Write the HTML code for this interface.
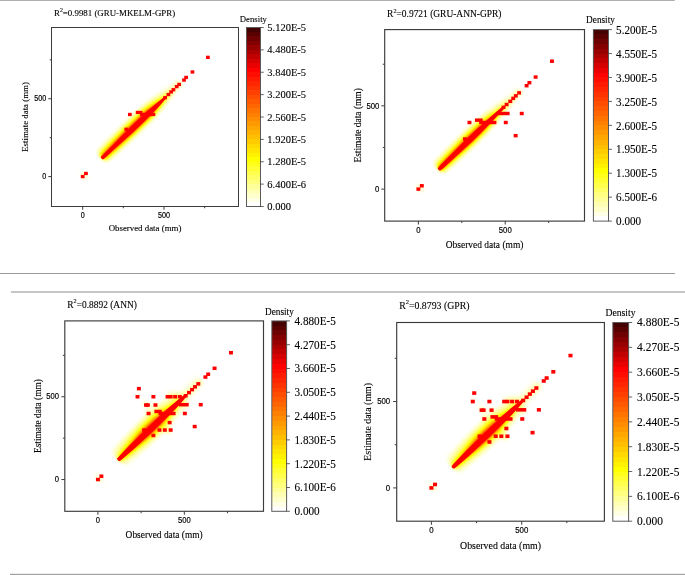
<!DOCTYPE html><html><head><meta charset="utf-8"><title>Density scatter</title>
<style>html,body{margin:0;padding:0;background:#fff}svg{display:block}text{font-family:"Liberation Serif",serif;fill:#000;stroke:#000;stroke-width:0.12px}.sa{font-family:"Liberation Sans",sans-serif;stroke:#000;stroke-width:0.2px}</style></head><body>
<svg width="685" height="575" viewBox="0 0 685 575">
<defs>
<filter id="fire1" filterUnits="userSpaceOnUse" x="-60" y="-60" width="330" height="120" color-interpolation-filters="sRGB">
<feGaussianBlur in="SourceGraphic" stdDeviation="1.2 2.0" result="a"/>
<feGaussianBlur in="SourceGraphic" stdDeviation="2.0 4.2" result="b0"/>
<feOffset in="b0" dx="0" dy="-1.2" result="b"/>
<feComposite in="a" in2="b" operator="arithmetic" k1="0" k2="0.48" k3="0.8" k4="0"/>
<feColorMatrix type="matrix" values="0 0 0 1 0  0 0 0 1 0  0 0 0 1 0  0 0 0 25 0"/>
<feComponentTransfer><feFuncR type="table" tableValues="1 1 1 1 1 1 1 1 1"/><feFuncG type="table" tableValues="1 1 1 0.75 0.5 0.25 0 0 0"/><feFuncB type="table" tableValues="1 0.5 0 0 0 0 0 0 0"/></feComponentTransfer>
</filter>
<clipPath id="c1"><rect x="51.5" y="27.5" width="187.00" height="179.00"/></clipPath>
<filter id="fire2" filterUnits="userSpaceOnUse" x="-60" y="-60" width="330" height="120" color-interpolation-filters="sRGB">
<feGaussianBlur in="SourceGraphic" stdDeviation="1.2 2.0" result="a"/>
<feGaussianBlur in="SourceGraphic" stdDeviation="2.0 4.4" result="b0"/>
<feOffset in="b0" dx="0" dy="-1.2" result="b"/>
<feComposite in="a" in2="b" operator="arithmetic" k1="0" k2="0.48" k3="0.8" k4="0"/>
<feColorMatrix type="matrix" values="0 0 0 1 0  0 0 0 1 0  0 0 0 1 0  0 0 0 25 0"/>
<feComponentTransfer><feFuncR type="table" tableValues="1 1 1 1 1 1 1 1 1"/><feFuncG type="table" tableValues="1 1 1 0.75 0.5 0.25 0 0 0"/><feFuncB type="table" tableValues="1 0.5 0 0 0 0 0 0 0"/></feComponentTransfer>
</filter>
<clipPath id="c2"><rect x="384.7" y="29.6" width="199.80" height="191.50"/></clipPath>
<filter id="fire3" filterUnits="userSpaceOnUse" x="-60" y="-60" width="330" height="120" color-interpolation-filters="sRGB">
<feGaussianBlur in="SourceGraphic" stdDeviation="1.2 2.6" result="a"/>
<feGaussianBlur in="SourceGraphic" stdDeviation="2.5 6.0" result="b0"/>
<feOffset in="b0" dx="0" dy="-1.0" result="b"/>
<feComposite in="a" in2="b" operator="arithmetic" k1="0" k2="0.5" k3="0.95" k4="0"/>
<feColorMatrix type="matrix" values="0 0 0 1 0  0 0 0 1 0  0 0 0 1 0  0 0 0 25 0"/>
<feComponentTransfer><feFuncR type="table" tableValues="1 1 1 1 1 1 1 1 1"/><feFuncG type="table" tableValues="1 1 1 0.75 0.5 0.25 0 0 0"/><feFuncB type="table" tableValues="1 0.5 0 0 0 0 0 0 0"/></feComponentTransfer>
</filter>
<clipPath id="c3"><rect x="64.8" y="320.9" width="198.70" height="190.40"/></clipPath>
<filter id="fire4" filterUnits="userSpaceOnUse" x="-60" y="-60" width="330" height="120" color-interpolation-filters="sRGB">
<feGaussianBlur in="SourceGraphic" stdDeviation="1.2 2.6" result="a"/>
<feGaussianBlur in="SourceGraphic" stdDeviation="2.5 6.0" result="b0"/>
<feOffset in="b0" dx="0" dy="-1.0" result="b"/>
<feComposite in="a" in2="b" operator="arithmetic" k1="0" k2="0.5" k3="0.95" k4="0"/>
<feColorMatrix type="matrix" values="0 0 0 1 0  0 0 0 1 0  0 0 0 1 0  0 0 0 25 0"/>
<feComponentTransfer><feFuncR type="table" tableValues="1 1 1 1 1 1 1 1 1"/><feFuncG type="table" tableValues="1 1 1 0.75 0.5 0.25 0 0 0"/><feFuncB type="table" tableValues="1 0.5 0 0 0 0 0 0 0"/></feComponentTransfer>
</filter>
<clipPath id="c4"><rect x="396.7" y="322.5" width="207.70" height="198.70"/></clipPath>
</defs>
<rect width="685" height="575" fill="#fff"/>
<g clip-path="url(#c1)">
<g transform="translate(82.70 176.58) rotate(-43.75)">
<g filter="url(#fire1)">
<path d="M26.56 0.00 L27.91 -1.80 L45.02 -2.30 L67.53 -2.80 L90.04 -2.70 L101.29 -1.70 L112.55 -0.80 L126.05 -0.32 L135.06 -0.20 L138.44 0.00 L138.44 0.00 L135.06 0.20 L126.05 0.32 L112.55 0.80 L101.29 1.70 L90.04 2.70 L67.53 2.80 L45.02 2.30 L27.91 1.80 L26.56 0.00Z" fill="#000" fill-opacity="1"/>
<circle cx="1.61" cy="0.67" r="4.2" fill="#000" fill-opacity="0.055"/>
</g>
<path d="M26.11 -1.00 L27.01 -1.90 L30.39 -1.90 L45.02 -2.10 L67.53 -2.80 L90.04 -2.80 L101.29 -2.20 L110.30 -1.50 L114.80 -1.20 L115.70 -0.50 L115.70 0.50 L114.80 1.20 L110.30 1.50 L101.29 2.20 L90.04 2.80 L67.53 2.80 L45.02 2.10 L30.39 1.90 L27.01 1.90 L26.11 1.00Z" fill="#ff0000"/>
</g>
<rect x="80.83" y="174.93" width="3.74" height="3.30" fill="#ff0000"/>
<rect x="84.08" y="171.81" width="3.74" height="3.30" fill="#ff0000"/>
<rect x="163.27" y="96.01" width="3.74" height="3.30" fill="#ff0000"/>
<rect x="166.52" y="92.90" width="3.74" height="3.30" fill="#ff0000"/>
<rect x="169.28" y="90.25" width="3.74" height="3.30" fill="#ff0000"/>
<rect x="171.56" y="88.07" width="3.74" height="3.30" fill="#ff0000"/>
<rect x="174.81" y="84.96" width="3.74" height="3.30" fill="#ff0000"/>
<rect x="177.25" y="82.78" width="3.74" height="3.30" fill="#ff0000"/>
<rect x="182.13" y="78.42" width="3.74" height="3.30" fill="#ff0000"/>
<rect x="184.24" y="75.78" width="3.74" height="3.30" fill="#ff0000"/>
<rect x="190.59" y="70.33" width="3.74" height="3.30" fill="#ff0000"/>
<rect x="206.03" y="55.70" width="3.74" height="3.30" fill="#ff0000"/>
<rect x="127.98" y="112.82" width="3.74" height="3.30" fill="#ff0000"/>
<rect x="124.40" y="127.61" width="3.74" height="3.30" fill="#ff0000"/>
<rect x="135.79" y="110.80" width="6.67" height="3.30" fill="#ff0000"/>
<rect x="140.02" y="112.82" width="15.29" height="3.30" fill="#ff0000"/>
</g>
<g clip-path="url(#c2)">
<g transform="translate(418.36 189.11) rotate(-43.78)">
<g filter="url(#fire2)">
<path d="M28.40 0.00 L29.84 -1.80 L48.13 -2.30 L72.20 -2.80 L86.64 -2.60 L96.26 -2.10 L108.29 -1.10 L120.33 -0.50 L129.95 -0.30 L140.78 -0.20 L144.39 0.00 L144.39 0.00 L140.78 0.20 L129.95 0.30 L120.33 0.50 L108.29 1.10 L96.26 2.10 L86.64 2.60 L72.20 2.80 L48.13 2.30 L29.84 1.80 L28.40 0.00Z" fill="#000" fill-opacity="1"/>
<circle cx="1.72" cy="0.72" r="4.2" fill="#000" fill-opacity="0.055"/>
</g>
<path d="M27.92 -1.00 L28.88 -1.90 L32.49 -2.10 L48.13 -2.50 L72.20 -3.00 L84.23 -2.80 L96.26 -2.40 L108.29 -1.90 L115.51 -1.50 L119.12 -1.20 L120.09 -0.50 L120.09 0.50 L119.12 1.20 L115.51 1.50 L108.29 1.90 L96.26 2.40 L84.23 2.80 L72.20 3.00 L48.13 2.50 L32.49 2.10 L28.88 1.90 L27.92 1.00Z" fill="#ff0000"/>
</g>
<rect x="416.41" y="187.39" width="3.91" height="3.44" fill="#ff0000"/>
<rect x="419.88" y="184.06" width="3.91" height="3.44" fill="#ff0000"/>
<rect x="501.54" y="105.63" width="3.91" height="3.44" fill="#ff0000"/>
<rect x="504.67" y="102.80" width="3.91" height="3.44" fill="#ff0000"/>
<rect x="508.32" y="99.63" width="3.91" height="3.44" fill="#ff0000"/>
<rect x="511.27" y="96.63" width="3.91" height="3.44" fill="#ff0000"/>
<rect x="513.88" y="94.14" width="3.91" height="3.44" fill="#ff0000"/>
<rect x="517.18" y="91.14" width="3.91" height="3.44" fill="#ff0000"/>
<rect x="467.49" y="120.78" width="3.91" height="3.44" fill="#ff0000"/>
<rect x="462.97" y="137.27" width="3.91" height="3.44" fill="#ff0000"/>
<rect x="519.78" y="111.79" width="3.91" height="3.44" fill="#ff0000"/>
<rect x="503.80" y="120.78" width="3.91" height="3.44" fill="#ff0000"/>
<rect x="513.70" y="133.94" width="3.91" height="3.44" fill="#ff0000"/>
<rect x="524.65" y="83.98" width="3.91" height="3.44" fill="#ff0000"/>
<rect x="527.43" y="80.98" width="3.91" height="3.44" fill="#ff0000"/>
<rect x="533.68" y="75.32" width="3.91" height="3.44" fill="#ff0000"/>
<rect x="550.01" y="59.50" width="3.91" height="3.44" fill="#ff0000"/>
<rect x="474.96" y="118.45" width="7.73" height="3.44" fill="#ff0000"/>
<rect x="479.13" y="120.78" width="17.28" height="3.44" fill="#ff0000"/>
<rect x="497.54" y="111.79" width="12.07" height="3.44" fill="#ff0000"/>
</g>
<g clip-path="url(#c3)">
<g transform="translate(97.93 479.54) rotate(-43.78)">
<g filter="url(#fire3)">
<path d="M28.24 0.00 L29.67 -1.00 L38.29 -1.50 L47.86 -2.10 L59.83 -2.80 L71.79 -3.30 L83.76 -3.10 L90.93 -2.60 L100.51 -1.60 L107.69 -1.00 L114.87 -0.55 L124.44 -0.32 L134.01 -0.22 L142.38 -0.15 L145.97 0.00 L145.97 0.00 L142.38 0.15 L134.01 0.22 L124.44 0.32 L114.87 0.55 L107.69 1.00 L100.51 1.60 L90.93 2.60 L83.76 3.10 L71.79 3.30 L59.83 2.80 L47.86 2.10 L38.29 1.50 L29.67 1.00 L28.24 0.00Z" fill="#000" fill-opacity="1"/>
<circle cx="1.82" cy="0.60" r="4.4" fill="#000" fill-opacity="0.05"/>
<circle cx="86.85" cy="-19.96" r="3" fill="#000" fill-opacity="0.085"/>
<circle cx="93.09" cy="-13.99" r="2.5" fill="#000" fill-opacity="0.073"/>
<circle cx="82.37" cy="-12.79" r="2.5" fill="#000" fill-opacity="0.073"/>
<circle cx="110.29" cy="-8.97" r="3" fill="#000" fill-opacity="0.085"/>
<circle cx="114.66" cy="-4.78" r="3" fill="#000" fill-opacity="0.085"/>
<circle cx="84.27" cy="11.95" r="3.5" fill="#000" fill-opacity="0.098"/>
<circle cx="114.15" cy="5.74" r="3" fill="#000" fill-opacity="0.073"/>
<circle cx="88.51" cy="-34.43" r="2.5" fill="#000" fill-opacity="0.049"/>
</g>
<path d="M27.76 -1.00 L28.72 -1.90 L32.31 -2.20 L47.86 -2.90 L71.79 -3.20 L95.72 -3.20 L107.69 -2.60 L117.26 -1.80 L122.04 -1.30 L123.00 -0.50 L123.00 0.50 L122.04 1.30 L117.26 1.80 L107.69 2.60 L95.72 3.20 L71.79 3.20 L47.86 2.90 L32.31 2.20 L28.72 1.90 L27.76 1.00Z" fill="#ff0000"/>
</g>
<rect x="95.95" y="477.80" width="3.96" height="3.49" fill="#ff0000"/>
<rect x="99.40" y="474.49" width="3.96" height="3.49" fill="#ff0000"/>
<rect x="183.72" y="394.02" width="3.96" height="3.49" fill="#ff0000"/>
<rect x="187.01" y="390.87" width="3.96" height="3.49" fill="#ff0000"/>
<rect x="190.12" y="387.89" width="3.96" height="3.49" fill="#ff0000"/>
<rect x="193.05" y="385.08" width="3.96" height="3.49" fill="#ff0000"/>
<rect x="196.34" y="382.10" width="3.96" height="3.49" fill="#ff0000"/>
<rect x="165.58" y="395.01" width="3.96" height="3.49" fill="#ff0000"/>
<rect x="168.69" y="395.01" width="3.96" height="3.49" fill="#ff0000"/>
<rect x="173.18" y="395.01" width="3.96" height="3.49" fill="#ff0000"/>
<rect x="177.85" y="395.01" width="3.96" height="3.49" fill="#ff0000"/>
<rect x="136.90" y="386.90" width="3.96" height="3.49" fill="#ff0000"/>
<rect x="135.52" y="395.01" width="3.96" height="3.49" fill="#ff0000"/>
<rect x="151.41" y="395.01" width="3.96" height="3.49" fill="#ff0000"/>
<rect x="143.98" y="403.29" width="3.96" height="3.49" fill="#ff0000"/>
<rect x="145.88" y="403.29" width="3.96" height="3.49" fill="#ff0000"/>
<rect x="153.49" y="403.29" width="3.96" height="3.49" fill="#ff0000"/>
<rect x="146.57" y="411.74" width="3.96" height="3.49" fill="#ff0000"/>
<rect x="182.86" y="411.74" width="3.96" height="3.49" fill="#ff0000"/>
<rect x="198.75" y="402.96" width="3.96" height="3.49" fill="#ff0000"/>
<rect x="167.65" y="420.84" width="3.96" height="3.49" fill="#ff0000"/>
<rect x="192.71" y="424.82" width="3.96" height="3.49" fill="#ff0000"/>
<rect x="157.46" y="428.29" width="3.96" height="3.49" fill="#ff0000"/>
<rect x="162.82" y="428.29" width="3.96" height="3.49" fill="#ff0000"/>
<rect x="168.69" y="428.29" width="3.96" height="3.49" fill="#ff0000"/>
<rect x="142.08" y="428.29" width="3.96" height="3.49" fill="#ff0000"/>
<rect x="151.41" y="433.76" width="3.96" height="3.49" fill="#ff0000"/>
<rect x="203.42" y="375.31" width="3.96" height="3.49" fill="#ff0000"/>
<rect x="206.18" y="372.50" width="3.96" height="3.49" fill="#ff0000"/>
<rect x="212.58" y="366.54" width="3.96" height="3.49" fill="#ff0000"/>
<rect x="228.99" y="350.97" width="3.96" height="3.49" fill="#ff0000"/>
<rect x="154.35" y="409.75" width="7.42" height="3.49" fill="#ff0000"/>
<rect x="158.50" y="411.74" width="17.09" height="3.49" fill="#ff0000"/>
<rect x="178.88" y="402.96" width="9.83" height="3.49" fill="#ff0000"/>
</g>
<g clip-path="url(#c4)">
<g transform="translate(431.42 487.92) rotate(-43.73)">
<g filter="url(#fire4)">
<path d="M29.49 0.00 L30.99 -1.00 L39.99 -1.50 L49.99 -2.10 L62.49 -2.80 L74.98 -3.30 L87.48 -3.10 L94.98 -2.60 L104.98 -1.60 L112.48 -1.00 L119.97 -0.55 L129.97 -0.32 L139.97 -0.22 L148.72 -0.15 L152.47 0.00 L152.47 0.00 L148.72 0.15 L139.97 0.22 L129.97 0.32 L119.97 0.55 L112.48 1.00 L104.98 1.60 L94.98 2.60 L87.48 3.10 L74.98 3.30 L62.49 2.80 L49.99 2.10 L39.99 1.50 L30.99 1.00 L29.49 0.00Z" fill="#000" fill-opacity="1"/>
<circle cx="1.90" cy="0.62" r="4.4" fill="#000" fill-opacity="0.05"/>
<circle cx="90.68" cy="-20.85" r="3" fill="#000" fill-opacity="0.085"/>
<circle cx="97.21" cy="-14.61" r="2.5" fill="#000" fill-opacity="0.073"/>
<circle cx="86.01" cy="-13.36" r="2.5" fill="#000" fill-opacity="0.073"/>
<circle cx="115.19" cy="-9.36" r="3" fill="#000" fill-opacity="0.085"/>
<circle cx="119.75" cy="-4.99" r="3" fill="#000" fill-opacity="0.085"/>
<circle cx="88.03" cy="12.49" r="3.5" fill="#000" fill-opacity="0.098"/>
<circle cx="119.24" cy="5.99" r="3" fill="#000" fill-opacity="0.073"/>
<circle cx="92.39" cy="-35.96" r="2.5" fill="#000" fill-opacity="0.049"/>
</g>
<path d="M28.99 -1.00 L29.99 -1.90 L33.74 -2.20 L49.99 -2.90 L74.98 -3.20 L99.98 -3.20 L112.48 -2.60 L122.47 -1.80 L127.47 -1.30 L128.47 -0.50 L128.47 0.50 L127.47 1.30 L122.47 1.80 L112.48 2.60 L99.98 3.20 L74.98 3.20 L49.99 2.90 L33.74 2.20 L29.99 1.90 L28.99 1.00Z" fill="#ff0000"/>
</g>
<rect x="429.38" y="486.13" width="4.07" height="3.59" fill="#ff0000"/>
<rect x="432.99" y="482.67" width="4.07" height="3.59" fill="#ff0000"/>
<rect x="521.13" y="398.70" width="4.07" height="3.59" fill="#ff0000"/>
<rect x="524.56" y="395.42" width="4.07" height="3.59" fill="#ff0000"/>
<rect x="527.81" y="392.31" width="4.07" height="3.59" fill="#ff0000"/>
<rect x="530.88" y="389.37" width="4.07" height="3.59" fill="#ff0000"/>
<rect x="534.31" y="386.26" width="4.07" height="3.59" fill="#ff0000"/>
<rect x="502.17" y="399.74" width="4.07" height="3.59" fill="#ff0000"/>
<rect x="505.42" y="399.74" width="4.07" height="3.59" fill="#ff0000"/>
<rect x="510.11" y="399.74" width="4.07" height="3.59" fill="#ff0000"/>
<rect x="514.99" y="399.74" width="4.07" height="3.59" fill="#ff0000"/>
<rect x="472.18" y="391.27" width="4.07" height="3.59" fill="#ff0000"/>
<rect x="470.74" y="399.74" width="4.07" height="3.59" fill="#ff0000"/>
<rect x="487.36" y="399.74" width="4.07" height="3.59" fill="#ff0000"/>
<rect x="479.59" y="408.37" width="4.07" height="3.59" fill="#ff0000"/>
<rect x="481.58" y="408.37" width="4.07" height="3.59" fill="#ff0000"/>
<rect x="489.52" y="408.37" width="4.07" height="3.59" fill="#ff0000"/>
<rect x="482.30" y="417.19" width="4.07" height="3.59" fill="#ff0000"/>
<rect x="520.23" y="417.19" width="4.07" height="3.59" fill="#ff0000"/>
<rect x="536.84" y="408.03" width="4.07" height="3.59" fill="#ff0000"/>
<rect x="504.33" y="426.69" width="4.07" height="3.59" fill="#ff0000"/>
<rect x="530.52" y="430.84" width="4.07" height="3.59" fill="#ff0000"/>
<rect x="493.68" y="434.46" width="4.07" height="3.59" fill="#ff0000"/>
<rect x="499.28" y="434.46" width="4.07" height="3.59" fill="#ff0000"/>
<rect x="505.42" y="434.46" width="4.07" height="3.59" fill="#ff0000"/>
<rect x="477.60" y="434.46" width="4.07" height="3.59" fill="#ff0000"/>
<rect x="487.36" y="440.17" width="4.07" height="3.59" fill="#ff0000"/>
<rect x="541.72" y="379.17" width="4.07" height="3.59" fill="#ff0000"/>
<rect x="544.61" y="376.24" width="4.07" height="3.59" fill="#ff0000"/>
<rect x="551.29" y="370.02" width="4.07" height="3.59" fill="#ff0000"/>
<rect x="568.45" y="353.78" width="4.07" height="3.59" fill="#ff0000"/>
<rect x="490.43" y="415.11" width="7.68" height="3.59" fill="#ff0000"/>
<rect x="494.76" y="417.19" width="17.80" height="3.59" fill="#ff0000"/>
<rect x="516.07" y="408.03" width="10.21" height="3.59" fill="#ff0000"/>
</g>
<rect x="0" y="0" width="674.8" height="0.8" fill="#9a9a9a"/>
<rect x="0" y="273" width="674.9" height="1" fill="#9a9a9a"/>
<rect x="11" y="291" width="674" height="2" fill="#c6c6c6"/>
<rect x="10" y="573.8" width="675" height="1.2" fill="#a2a2a2"/>
<g opacity="0.999">
<rect x="51.5" y="27.5" width="187.00" height="179.00" fill="none" stroke="#3c3c3c" stroke-width="1.0"/>
<line x1="82.70" y1="206.5" x2="82.70" y2="209.71" stroke="#3c3c3c" stroke-width="1"/>
<line x1="51.5" y1="176.58" x2="48.29" y2="176.58" stroke="#3c3c3c" stroke-width="1"/>
<line x1="164.00" y1="206.5" x2="164.00" y2="209.71" stroke="#3c3c3c" stroke-width="1"/>
<line x1="51.5" y1="98.75" x2="48.29" y2="98.75" stroke="#3c3c3c" stroke-width="1"/>
<line x1="123.35" y1="206.5" x2="123.35" y2="208.26" stroke="#3c3c3c" stroke-width="1"/>
<line x1="51.5" y1="137.66" x2="49.74" y2="137.66" stroke="#3c3c3c" stroke-width="1"/>
<line x1="204.65" y1="206.5" x2="204.65" y2="208.26" stroke="#3c3c3c" stroke-width="1"/>
<line x1="51.5" y1="59.84" x2="49.74" y2="59.84" stroke="#3c3c3c" stroke-width="1"/>
<text class="sa" transform="translate(82.70 217.70) scale(0.835 1)" font-size="8.58" text-anchor="middle">0</text>
<text class="sa" transform="translate(46.3 179.05) scale(0.835 1)" font-size="8.58" text-anchor="end">0</text>
<text class="sa" transform="translate(164.00 217.70) scale(0.835 1)" font-size="8.58" text-anchor="middle">500</text>
<text class="sa" transform="translate(46.3 101.22) scale(0.835 1)" font-size="8.58" text-anchor="end">500</text>
<text x="145.00" y="230.6" font-size="8.85" text-anchor="middle">Observed data (mm)</text>
<text transform="translate(28.16 117.00) rotate(-90)" font-size="8.85" text-anchor="middle">Estimate data (mm)</text>
<text x="54.0" y="15.5" font-size="8.87">R<tspan font-size="5.85" dy="-3.99">2</tspan><tspan dy="3.99">=0.9981 (GRU-MKELM-GPR)</tspan></text>
<rect x="246.5" y="27.50" width="14.00" height="8.95" fill="rgb(69,0,0)" shape-rendering="crispEdges"/>
<rect x="246.5" y="31.98" width="14.00" height="8.95" fill="rgb(89,0,0)" shape-rendering="crispEdges"/>
<rect x="246.5" y="36.45" width="14.00" height="8.95" fill="rgb(110,0,0)" shape-rendering="crispEdges"/>
<rect x="246.5" y="40.92" width="14.00" height="8.95" fill="rgb(131,0,0)" shape-rendering="crispEdges"/>
<rect x="246.5" y="45.40" width="14.00" height="8.95" fill="rgb(152,0,0)" shape-rendering="crispEdges"/>
<rect x="246.5" y="49.88" width="14.00" height="8.95" fill="rgb(172,0,0)" shape-rendering="crispEdges"/>
<rect x="246.5" y="54.35" width="14.00" height="8.95" fill="rgb(193,0,0)" shape-rendering="crispEdges"/>
<rect x="246.5" y="58.82" width="14.00" height="8.95" fill="rgb(214,0,0)" shape-rendering="crispEdges"/>
<rect x="246.5" y="63.30" width="14.00" height="8.95" fill="rgb(234,0,0)" shape-rendering="crispEdges"/>
<rect x="246.5" y="67.78" width="14.00" height="8.95" fill="rgb(255,0,0)" shape-rendering="crispEdges"/>
<rect x="246.5" y="72.25" width="14.00" height="8.95" fill="rgb(255,13,0)" shape-rendering="crispEdges"/>
<rect x="246.5" y="76.72" width="14.00" height="8.95" fill="rgb(255,26,0)" shape-rendering="crispEdges"/>
<rect x="246.5" y="81.20" width="14.00" height="8.95" fill="rgb(255,38,0)" shape-rendering="crispEdges"/>
<rect x="246.5" y="85.67" width="14.00" height="8.95" fill="rgb(255,51,0)" shape-rendering="crispEdges"/>
<rect x="246.5" y="90.15" width="14.00" height="8.95" fill="rgb(255,64,0)" shape-rendering="crispEdges"/>
<rect x="246.5" y="94.62" width="14.00" height="8.95" fill="rgb(255,77,0)" shape-rendering="crispEdges"/>
<rect x="246.5" y="99.10" width="14.00" height="8.95" fill="rgb(255,89,0)" shape-rendering="crispEdges"/>
<rect x="246.5" y="103.57" width="14.00" height="8.95" fill="rgb(255,102,0)" shape-rendering="crispEdges"/>
<rect x="246.5" y="108.05" width="14.00" height="8.95" fill="rgb(255,115,0)" shape-rendering="crispEdges"/>
<rect x="246.5" y="112.52" width="14.00" height="8.95" fill="rgb(255,128,0)" shape-rendering="crispEdges"/>
<rect x="246.5" y="117.00" width="14.00" height="8.95" fill="rgb(255,140,0)" shape-rendering="crispEdges"/>
<rect x="246.5" y="121.47" width="14.00" height="8.95" fill="rgb(255,153,0)" shape-rendering="crispEdges"/>
<rect x="246.5" y="125.95" width="14.00" height="8.95" fill="rgb(255,166,0)" shape-rendering="crispEdges"/>
<rect x="246.5" y="130.43" width="14.00" height="8.95" fill="rgb(255,178,0)" shape-rendering="crispEdges"/>
<rect x="246.5" y="134.90" width="14.00" height="8.95" fill="rgb(255,191,0)" shape-rendering="crispEdges"/>
<rect x="246.5" y="139.38" width="14.00" height="8.95" fill="rgb(255,204,0)" shape-rendering="crispEdges"/>
<rect x="246.5" y="143.85" width="14.00" height="8.95" fill="rgb(255,217,0)" shape-rendering="crispEdges"/>
<rect x="246.5" y="148.32" width="14.00" height="8.95" fill="rgb(255,229,0)" shape-rendering="crispEdges"/>
<rect x="246.5" y="152.80" width="14.00" height="8.95" fill="rgb(255,242,0)" shape-rendering="crispEdges"/>
<rect x="246.5" y="157.27" width="14.00" height="8.95" fill="rgb(255,255,0)" shape-rendering="crispEdges"/>
<rect x="246.5" y="161.75" width="14.00" height="8.95" fill="rgb(255,255,26)" shape-rendering="crispEdges"/>
<rect x="246.5" y="166.22" width="14.00" height="8.95" fill="rgb(255,255,51)" shape-rendering="crispEdges"/>
<rect x="246.5" y="170.70" width="14.00" height="8.95" fill="rgb(255,255,76)" shape-rendering="crispEdges"/>
<rect x="246.5" y="175.17" width="14.00" height="8.95" fill="rgb(255,255,102)" shape-rendering="crispEdges"/>
<rect x="246.5" y="179.65" width="14.00" height="8.95" fill="rgb(255,255,128)" shape-rendering="crispEdges"/>
<rect x="246.5" y="184.12" width="14.00" height="8.95" fill="rgb(255,255,153)" shape-rendering="crispEdges"/>
<rect x="246.5" y="188.60" width="14.00" height="8.95" fill="rgb(255,255,179)" shape-rendering="crispEdges"/>
<rect x="246.5" y="193.07" width="14.00" height="8.95" fill="rgb(255,255,204)" shape-rendering="crispEdges"/>
<rect x="246.5" y="197.55" width="14.00" height="8.95" fill="rgb(255,255,229)" shape-rendering="crispEdges"/>
<rect x="246.5" y="202.02" width="14.00" height="4.47" fill="rgb(255,255,255)" shape-rendering="crispEdges"/>
<rect x="246.5" y="27.5" width="14.00" height="179.00" fill="none" stroke="#5a5a5a" stroke-width="1"/>
<line x1="260.5" y1="27.50" x2="263.71" y2="27.50" stroke="#3c3c3c" stroke-width="0.8"/>
<text transform="translate(267.3 31.09) scale(0.99 1)" font-size="10.61">5.120E-5</text>
<line x1="260.5" y1="49.88" x2="263.71" y2="49.88" stroke="#3c3c3c" stroke-width="0.8"/>
<text transform="translate(267.3 53.46) scale(0.99 1)" font-size="10.61">4.480E-5</text>
<line x1="260.5" y1="72.25" x2="263.71" y2="72.25" stroke="#3c3c3c" stroke-width="0.8"/>
<text transform="translate(267.3 75.84) scale(0.99 1)" font-size="10.61">3.840E-5</text>
<line x1="260.5" y1="94.62" x2="263.71" y2="94.62" stroke="#3c3c3c" stroke-width="0.8"/>
<text transform="translate(267.3 98.21) scale(0.99 1)" font-size="10.61">3.200E-5</text>
<line x1="260.5" y1="117.00" x2="263.71" y2="117.00" stroke="#3c3c3c" stroke-width="0.8"/>
<text transform="translate(267.3 120.59) scale(0.99 1)" font-size="10.61">2.560E-5</text>
<line x1="260.5" y1="139.38" x2="263.71" y2="139.38" stroke="#3c3c3c" stroke-width="0.8"/>
<text transform="translate(267.3 142.96) scale(0.99 1)" font-size="10.61">1.920E-5</text>
<line x1="260.5" y1="161.75" x2="263.71" y2="161.75" stroke="#3c3c3c" stroke-width="0.8"/>
<text transform="translate(267.3 165.34) scale(0.99 1)" font-size="10.61">1.280E-5</text>
<line x1="260.5" y1="184.12" x2="263.71" y2="184.12" stroke="#3c3c3c" stroke-width="0.8"/>
<text transform="translate(267.3 187.71) scale(0.99 1)" font-size="10.61">6.400E-6</text>
<line x1="260.5" y1="206.50" x2="263.71" y2="206.50" stroke="#3c3c3c" stroke-width="0.8"/>
<text transform="translate(267.3 210.09) scale(0.99 1)" font-size="10.61">0.000</text>
<text transform="translate(239.8 21.7) scale(0.975 1)" font-size="8.95">Density</text>
<rect x="384.7" y="29.6" width="199.80" height="191.50" fill="none" stroke="#3c3c3c" stroke-width="1.15"/>
<line x1="418.36" y1="221.1" x2="418.36" y2="224.53" stroke="#3c3c3c" stroke-width="1"/>
<line x1="384.7" y1="189.11" x2="381.27" y2="189.11" stroke="#3c3c3c" stroke-width="1"/>
<line x1="505.23" y1="221.1" x2="505.23" y2="224.53" stroke="#3c3c3c" stroke-width="1"/>
<line x1="384.7" y1="105.85" x2="381.27" y2="105.85" stroke="#3c3c3c" stroke-width="1"/>
<line x1="461.80" y1="221.1" x2="461.80" y2="222.99" stroke="#3c3c3c" stroke-width="1"/>
<line x1="384.7" y1="147.48" x2="382.81" y2="147.48" stroke="#3c3c3c" stroke-width="1"/>
<line x1="548.66" y1="221.1" x2="548.66" y2="222.99" stroke="#3c3c3c" stroke-width="1"/>
<line x1="384.7" y1="64.22" x2="382.81" y2="64.22" stroke="#3c3c3c" stroke-width="1"/>
<text class="sa" transform="translate(418.36 233.40) scale(0.835 1)" font-size="9.28" text-anchor="middle">0</text>
<text class="sa" transform="translate(379.4 191.83) scale(0.835 1)" font-size="9.28" text-anchor="end">0</text>
<text class="sa" transform="translate(505.23 233.40) scale(0.835 1)" font-size="9.28" text-anchor="middle">500</text>
<text class="sa" transform="translate(379.4 108.57) scale(0.835 1)" font-size="9.28" text-anchor="end">500</text>
<text x="484.60" y="248.3" font-size="9.45" text-anchor="middle">Observed data (mm)</text>
<text transform="translate(360.63 125.35) rotate(-90)" font-size="9.45" text-anchor="middle">Estimate data (mm)</text>
<text x="387.1" y="17.0" font-size="9.45">R<tspan font-size="6.24" dy="-4.25">2</tspan><tspan dy="4.25">=0.9721 (GRU-ANN-GPR)</tspan></text>
<rect x="593.4" y="29.60" width="15.10" height="9.57" fill="rgb(69,0,0)" shape-rendering="crispEdges"/>
<rect x="593.4" y="34.39" width="15.10" height="9.57" fill="rgb(89,0,0)" shape-rendering="crispEdges"/>
<rect x="593.4" y="39.17" width="15.10" height="9.57" fill="rgb(110,0,0)" shape-rendering="crispEdges"/>
<rect x="593.4" y="43.96" width="15.10" height="9.57" fill="rgb(131,0,0)" shape-rendering="crispEdges"/>
<rect x="593.4" y="48.75" width="15.10" height="9.57" fill="rgb(152,0,0)" shape-rendering="crispEdges"/>
<rect x="593.4" y="53.54" width="15.10" height="9.57" fill="rgb(172,0,0)" shape-rendering="crispEdges"/>
<rect x="593.4" y="58.33" width="15.10" height="9.57" fill="rgb(193,0,0)" shape-rendering="crispEdges"/>
<rect x="593.4" y="63.11" width="15.10" height="9.57" fill="rgb(214,0,0)" shape-rendering="crispEdges"/>
<rect x="593.4" y="67.90" width="15.10" height="9.57" fill="rgb(234,0,0)" shape-rendering="crispEdges"/>
<rect x="593.4" y="72.69" width="15.10" height="9.57" fill="rgb(255,0,0)" shape-rendering="crispEdges"/>
<rect x="593.4" y="77.47" width="15.10" height="9.57" fill="rgb(255,13,0)" shape-rendering="crispEdges"/>
<rect x="593.4" y="82.26" width="15.10" height="9.57" fill="rgb(255,26,0)" shape-rendering="crispEdges"/>
<rect x="593.4" y="87.05" width="15.10" height="9.57" fill="rgb(255,38,0)" shape-rendering="crispEdges"/>
<rect x="593.4" y="91.84" width="15.10" height="9.57" fill="rgb(255,51,0)" shape-rendering="crispEdges"/>
<rect x="593.4" y="96.62" width="15.10" height="9.57" fill="rgb(255,64,0)" shape-rendering="crispEdges"/>
<rect x="593.4" y="101.41" width="15.10" height="9.57" fill="rgb(255,77,0)" shape-rendering="crispEdges"/>
<rect x="593.4" y="106.20" width="15.10" height="9.57" fill="rgb(255,89,0)" shape-rendering="crispEdges"/>
<rect x="593.4" y="110.99" width="15.10" height="9.57" fill="rgb(255,102,0)" shape-rendering="crispEdges"/>
<rect x="593.4" y="115.78" width="15.10" height="9.57" fill="rgb(255,115,0)" shape-rendering="crispEdges"/>
<rect x="593.4" y="120.56" width="15.10" height="9.57" fill="rgb(255,128,0)" shape-rendering="crispEdges"/>
<rect x="593.4" y="125.35" width="15.10" height="9.57" fill="rgb(255,140,0)" shape-rendering="crispEdges"/>
<rect x="593.4" y="130.14" width="15.10" height="9.57" fill="rgb(255,153,0)" shape-rendering="crispEdges"/>
<rect x="593.4" y="134.92" width="15.10" height="9.57" fill="rgb(255,166,0)" shape-rendering="crispEdges"/>
<rect x="593.4" y="139.71" width="15.10" height="9.57" fill="rgb(255,178,0)" shape-rendering="crispEdges"/>
<rect x="593.4" y="144.50" width="15.10" height="9.57" fill="rgb(255,191,0)" shape-rendering="crispEdges"/>
<rect x="593.4" y="149.29" width="15.10" height="9.57" fill="rgb(255,204,0)" shape-rendering="crispEdges"/>
<rect x="593.4" y="154.07" width="15.10" height="9.57" fill="rgb(255,217,0)" shape-rendering="crispEdges"/>
<rect x="593.4" y="158.86" width="15.10" height="9.57" fill="rgb(255,229,0)" shape-rendering="crispEdges"/>
<rect x="593.4" y="163.65" width="15.10" height="9.57" fill="rgb(255,242,0)" shape-rendering="crispEdges"/>
<rect x="593.4" y="168.44" width="15.10" height="9.57" fill="rgb(255,255,0)" shape-rendering="crispEdges"/>
<rect x="593.4" y="173.22" width="15.10" height="9.57" fill="rgb(255,255,26)" shape-rendering="crispEdges"/>
<rect x="593.4" y="178.01" width="15.10" height="9.57" fill="rgb(255,255,51)" shape-rendering="crispEdges"/>
<rect x="593.4" y="182.80" width="15.10" height="9.57" fill="rgb(255,255,76)" shape-rendering="crispEdges"/>
<rect x="593.4" y="187.59" width="15.10" height="9.57" fill="rgb(255,255,102)" shape-rendering="crispEdges"/>
<rect x="593.4" y="192.37" width="15.10" height="9.57" fill="rgb(255,255,128)" shape-rendering="crispEdges"/>
<rect x="593.4" y="197.16" width="15.10" height="9.57" fill="rgb(255,255,153)" shape-rendering="crispEdges"/>
<rect x="593.4" y="201.95" width="15.10" height="9.57" fill="rgb(255,255,179)" shape-rendering="crispEdges"/>
<rect x="593.4" y="206.74" width="15.10" height="9.57" fill="rgb(255,255,204)" shape-rendering="crispEdges"/>
<rect x="593.4" y="211.52" width="15.10" height="9.57" fill="rgb(255,255,229)" shape-rendering="crispEdges"/>
<rect x="593.4" y="216.31" width="15.10" height="4.79" fill="rgb(255,255,255)" shape-rendering="crispEdges"/>
<rect x="593.4" y="29.6" width="15.10" height="191.50" fill="none" stroke="#5a5a5a" stroke-width="1"/>
<line x1="608.5" y1="29.60" x2="611.93" y2="29.60" stroke="#3c3c3c" stroke-width="0.8"/>
<text transform="translate(616.1 33.77) scale(0.958 1)" font-size="11.60">5.200E-5</text>
<line x1="608.5" y1="53.54" x2="611.93" y2="53.54" stroke="#3c3c3c" stroke-width="0.8"/>
<text transform="translate(616.1 57.71) scale(0.958 1)" font-size="11.60">4.550E-5</text>
<line x1="608.5" y1="77.47" x2="611.93" y2="77.47" stroke="#3c3c3c" stroke-width="0.8"/>
<text transform="translate(616.1 81.65) scale(0.958 1)" font-size="11.60">3.900E-5</text>
<line x1="608.5" y1="101.41" x2="611.93" y2="101.41" stroke="#3c3c3c" stroke-width="0.8"/>
<text transform="translate(616.1 105.58) scale(0.958 1)" font-size="11.60">3.250E-5</text>
<line x1="608.5" y1="125.35" x2="611.93" y2="125.35" stroke="#3c3c3c" stroke-width="0.8"/>
<text transform="translate(616.1 129.52) scale(0.958 1)" font-size="11.60">2.600E-5</text>
<line x1="608.5" y1="149.29" x2="611.93" y2="149.29" stroke="#3c3c3c" stroke-width="0.8"/>
<text transform="translate(616.1 153.46) scale(0.958 1)" font-size="11.60">1.950E-5</text>
<line x1="608.5" y1="173.22" x2="611.93" y2="173.22" stroke="#3c3c3c" stroke-width="0.8"/>
<text transform="translate(616.1 177.40) scale(0.958 1)" font-size="11.60">1.300E-5</text>
<line x1="608.5" y1="197.16" x2="611.93" y2="197.16" stroke="#3c3c3c" stroke-width="0.8"/>
<text transform="translate(616.1 201.33) scale(0.958 1)" font-size="11.60">6.500E-6</text>
<line x1="608.5" y1="221.10" x2="611.93" y2="221.10" stroke="#3c3c3c" stroke-width="0.8"/>
<text transform="translate(616.1 225.27) scale(0.958 1)" font-size="11.60">0.000</text>
<text transform="translate(586.1 23.2) scale(0.975 1)" font-size="9.5">Density</text>
<rect x="64.8" y="320.9" width="198.70" height="190.40" fill="none" stroke="#3c3c3c" stroke-width="1.15"/>
<line x1="97.93" y1="511.3" x2="97.93" y2="514.71" stroke="#3c3c3c" stroke-width="1"/>
<line x1="64.8" y1="479.54" x2="61.39" y2="479.54" stroke="#3c3c3c" stroke-width="1"/>
<line x1="184.32" y1="511.3" x2="184.32" y2="514.71" stroke="#3c3c3c" stroke-width="1"/>
<line x1="64.8" y1="396.76" x2="61.39" y2="396.76" stroke="#3c3c3c" stroke-width="1"/>
<line x1="141.12" y1="511.3" x2="141.12" y2="513.18" stroke="#3c3c3c" stroke-width="1"/>
<line x1="64.8" y1="438.15" x2="62.92" y2="438.15" stroke="#3c3c3c" stroke-width="1"/>
<line x1="227.52" y1="511.3" x2="227.52" y2="513.18" stroke="#3c3c3c" stroke-width="1"/>
<line x1="64.8" y1="355.37" x2="62.92" y2="355.37" stroke="#3c3c3c" stroke-width="1"/>
<text class="sa" transform="translate(97.93 523.00) scale(0.835 1)" font-size="9.16" text-anchor="middle">0</text>
<text class="sa" transform="translate(58.9 482.22) scale(0.835 1)" font-size="9.16" text-anchor="end">0</text>
<text class="sa" transform="translate(184.32 523.00) scale(0.835 1)" font-size="9.16" text-anchor="middle">500</text>
<text class="sa" transform="translate(58.9 399.44) scale(0.835 1)" font-size="9.16" text-anchor="end">500</text>
<text x="164.15" y="537.6" font-size="9.38" text-anchor="middle">Observed data (mm)</text>
<text transform="translate(40.61 416.10) rotate(-90)" font-size="9.38" text-anchor="middle">Estimate data (mm)</text>
<text x="67.3" y="307.6" font-size="9.42">R<tspan font-size="6.22" dy="-4.24">2</tspan><tspan dy="4.24">=0.8892 (ANN)</tspan></text>
<rect x="271.8" y="320.90" width="14.80" height="9.52" fill="rgb(69,0,0)" shape-rendering="crispEdges"/>
<rect x="271.8" y="325.66" width="14.80" height="9.52" fill="rgb(89,0,0)" shape-rendering="crispEdges"/>
<rect x="271.8" y="330.42" width="14.80" height="9.52" fill="rgb(110,0,0)" shape-rendering="crispEdges"/>
<rect x="271.8" y="335.18" width="14.80" height="9.52" fill="rgb(131,0,0)" shape-rendering="crispEdges"/>
<rect x="271.8" y="339.94" width="14.80" height="9.52" fill="rgb(152,0,0)" shape-rendering="crispEdges"/>
<rect x="271.8" y="344.70" width="14.80" height="9.52" fill="rgb(172,0,0)" shape-rendering="crispEdges"/>
<rect x="271.8" y="349.46" width="14.80" height="9.52" fill="rgb(193,0,0)" shape-rendering="crispEdges"/>
<rect x="271.8" y="354.22" width="14.80" height="9.52" fill="rgb(214,0,0)" shape-rendering="crispEdges"/>
<rect x="271.8" y="358.98" width="14.80" height="9.52" fill="rgb(234,0,0)" shape-rendering="crispEdges"/>
<rect x="271.8" y="363.74" width="14.80" height="9.52" fill="rgb(255,0,0)" shape-rendering="crispEdges"/>
<rect x="271.8" y="368.50" width="14.80" height="9.52" fill="rgb(255,13,0)" shape-rendering="crispEdges"/>
<rect x="271.8" y="373.26" width="14.80" height="9.52" fill="rgb(255,26,0)" shape-rendering="crispEdges"/>
<rect x="271.8" y="378.02" width="14.80" height="9.52" fill="rgb(255,38,0)" shape-rendering="crispEdges"/>
<rect x="271.8" y="382.78" width="14.80" height="9.52" fill="rgb(255,51,0)" shape-rendering="crispEdges"/>
<rect x="271.8" y="387.54" width="14.80" height="9.52" fill="rgb(255,64,0)" shape-rendering="crispEdges"/>
<rect x="271.8" y="392.30" width="14.80" height="9.52" fill="rgb(255,77,0)" shape-rendering="crispEdges"/>
<rect x="271.8" y="397.06" width="14.80" height="9.52" fill="rgb(255,89,0)" shape-rendering="crispEdges"/>
<rect x="271.8" y="401.82" width="14.80" height="9.52" fill="rgb(255,102,0)" shape-rendering="crispEdges"/>
<rect x="271.8" y="406.58" width="14.80" height="9.52" fill="rgb(255,115,0)" shape-rendering="crispEdges"/>
<rect x="271.8" y="411.34" width="14.80" height="9.52" fill="rgb(255,128,0)" shape-rendering="crispEdges"/>
<rect x="271.8" y="416.10" width="14.80" height="9.52" fill="rgb(255,140,0)" shape-rendering="crispEdges"/>
<rect x="271.8" y="420.86" width="14.80" height="9.52" fill="rgb(255,153,0)" shape-rendering="crispEdges"/>
<rect x="271.8" y="425.62" width="14.80" height="9.52" fill="rgb(255,166,0)" shape-rendering="crispEdges"/>
<rect x="271.8" y="430.38" width="14.80" height="9.52" fill="rgb(255,178,0)" shape-rendering="crispEdges"/>
<rect x="271.8" y="435.14" width="14.80" height="9.52" fill="rgb(255,191,0)" shape-rendering="crispEdges"/>
<rect x="271.8" y="439.90" width="14.80" height="9.52" fill="rgb(255,204,0)" shape-rendering="crispEdges"/>
<rect x="271.8" y="444.66" width="14.80" height="9.52" fill="rgb(255,217,0)" shape-rendering="crispEdges"/>
<rect x="271.8" y="449.42" width="14.80" height="9.52" fill="rgb(255,229,0)" shape-rendering="crispEdges"/>
<rect x="271.8" y="454.18" width="14.80" height="9.52" fill="rgb(255,242,0)" shape-rendering="crispEdges"/>
<rect x="271.8" y="458.94" width="14.80" height="9.52" fill="rgb(255,255,0)" shape-rendering="crispEdges"/>
<rect x="271.8" y="463.70" width="14.80" height="9.52" fill="rgb(255,255,26)" shape-rendering="crispEdges"/>
<rect x="271.8" y="468.46" width="14.80" height="9.52" fill="rgb(255,255,51)" shape-rendering="crispEdges"/>
<rect x="271.8" y="473.22" width="14.80" height="9.52" fill="rgb(255,255,76)" shape-rendering="crispEdges"/>
<rect x="271.8" y="477.98" width="14.80" height="9.52" fill="rgb(255,255,102)" shape-rendering="crispEdges"/>
<rect x="271.8" y="482.74" width="14.80" height="9.52" fill="rgb(255,255,128)" shape-rendering="crispEdges"/>
<rect x="271.8" y="487.50" width="14.80" height="9.52" fill="rgb(255,255,153)" shape-rendering="crispEdges"/>
<rect x="271.8" y="492.26" width="14.80" height="9.52" fill="rgb(255,255,179)" shape-rendering="crispEdges"/>
<rect x="271.8" y="497.02" width="14.80" height="9.52" fill="rgb(255,255,204)" shape-rendering="crispEdges"/>
<rect x="271.8" y="501.78" width="14.80" height="9.52" fill="rgb(255,255,229)" shape-rendering="crispEdges"/>
<rect x="271.8" y="506.54" width="14.80" height="4.76" fill="rgb(255,255,255)" shape-rendering="crispEdges"/>
<rect x="271.8" y="320.9" width="14.80" height="190.40" fill="none" stroke="#5a5a5a" stroke-width="1"/>
<line x1="286.6" y1="320.90" x2="290.01" y2="320.90" stroke="#3c3c3c" stroke-width="0.8"/>
<text transform="translate(294.5 324.82) scale(0.965 1)" font-size="11.60">4.880E-5</text>
<line x1="286.6" y1="344.70" x2="290.01" y2="344.70" stroke="#3c3c3c" stroke-width="0.8"/>
<text transform="translate(294.5 348.62) scale(0.965 1)" font-size="11.60">4.270E-5</text>
<line x1="286.6" y1="368.50" x2="290.01" y2="368.50" stroke="#3c3c3c" stroke-width="0.8"/>
<text transform="translate(294.5 372.42) scale(0.965 1)" font-size="11.60">3.660E-5</text>
<line x1="286.6" y1="392.30" x2="290.01" y2="392.30" stroke="#3c3c3c" stroke-width="0.8"/>
<text transform="translate(294.5 396.22) scale(0.965 1)" font-size="11.60">3.050E-5</text>
<line x1="286.6" y1="416.10" x2="290.01" y2="416.10" stroke="#3c3c3c" stroke-width="0.8"/>
<text transform="translate(294.5 420.02) scale(0.965 1)" font-size="11.60">2.440E-5</text>
<line x1="286.6" y1="439.90" x2="290.01" y2="439.90" stroke="#3c3c3c" stroke-width="0.8"/>
<text transform="translate(294.5 443.82) scale(0.965 1)" font-size="11.60">1.830E-5</text>
<line x1="286.6" y1="463.70" x2="290.01" y2="463.70" stroke="#3c3c3c" stroke-width="0.8"/>
<text transform="translate(294.5 467.62) scale(0.965 1)" font-size="11.60">1.220E-5</text>
<line x1="286.6" y1="487.50" x2="290.01" y2="487.50" stroke="#3c3c3c" stroke-width="0.8"/>
<text transform="translate(294.5 491.42) scale(0.965 1)" font-size="11.60">6.100E-6</text>
<line x1="286.6" y1="511.30" x2="290.01" y2="511.30" stroke="#3c3c3c" stroke-width="0.8"/>
<text transform="translate(294.5 515.22) scale(0.965 1)" font-size="11.60">0.000</text>
<text transform="translate(265.0 314.9) scale(0.975 1)" font-size="9.5">Density</text>
<rect x="396.7" y="322.5" width="207.70" height="198.70" fill="none" stroke="#3c3c3c" stroke-width="1.15"/>
<line x1="431.42" y1="521.2" x2="431.42" y2="524.76" stroke="#3c3c3c" stroke-width="1"/>
<line x1="396.7" y1="487.92" x2="393.14" y2="487.92" stroke="#3c3c3c" stroke-width="1"/>
<line x1="521.72" y1="521.2" x2="521.72" y2="524.76" stroke="#3c3c3c" stroke-width="1"/>
<line x1="396.7" y1="401.53" x2="393.14" y2="401.53" stroke="#3c3c3c" stroke-width="1"/>
<line x1="476.57" y1="521.2" x2="476.57" y2="523.16" stroke="#3c3c3c" stroke-width="1"/>
<line x1="396.7" y1="444.73" x2="394.74" y2="444.73" stroke="#3c3c3c" stroke-width="1"/>
<line x1="566.87" y1="521.2" x2="566.87" y2="523.16" stroke="#3c3c3c" stroke-width="1"/>
<line x1="396.7" y1="358.33" x2="394.74" y2="358.33" stroke="#3c3c3c" stroke-width="1"/>
<text class="sa" transform="translate(431.42 533.30) scale(0.835 1)" font-size="9.40" text-anchor="middle">0</text>
<text class="sa" transform="translate(390.2 490.69) scale(0.835 1)" font-size="9.40" text-anchor="end">0</text>
<text class="sa" transform="translate(521.72 533.30) scale(0.835 1)" font-size="9.40" text-anchor="middle">500</text>
<text class="sa" transform="translate(390.2 404.29) scale(0.835 1)" font-size="9.40" text-anchor="end">500</text>
<text x="500.55" y="548.7" font-size="9.85" text-anchor="middle">Observed data (mm)</text>
<text transform="translate(370.75 421.85) rotate(-90)" font-size="9.85" text-anchor="middle">Estimate data (mm)</text>
<text x="399.2" y="308.8" font-size="9.8">R<tspan font-size="6.47" dy="-4.41">2</tspan><tspan dy="4.41">=0.8793 (GPR)</tspan></text>
<rect x="612.8" y="322.50" width="15.80" height="9.94" fill="rgb(69,0,0)" shape-rendering="crispEdges"/>
<rect x="612.8" y="327.47" width="15.80" height="9.94" fill="rgb(89,0,0)" shape-rendering="crispEdges"/>
<rect x="612.8" y="332.44" width="15.80" height="9.94" fill="rgb(110,0,0)" shape-rendering="crispEdges"/>
<rect x="612.8" y="337.40" width="15.80" height="9.94" fill="rgb(131,0,0)" shape-rendering="crispEdges"/>
<rect x="612.8" y="342.37" width="15.80" height="9.94" fill="rgb(152,0,0)" shape-rendering="crispEdges"/>
<rect x="612.8" y="347.34" width="15.80" height="9.94" fill="rgb(172,0,0)" shape-rendering="crispEdges"/>
<rect x="612.8" y="352.31" width="15.80" height="9.94" fill="rgb(193,0,0)" shape-rendering="crispEdges"/>
<rect x="612.8" y="357.27" width="15.80" height="9.94" fill="rgb(214,0,0)" shape-rendering="crispEdges"/>
<rect x="612.8" y="362.24" width="15.80" height="9.94" fill="rgb(234,0,0)" shape-rendering="crispEdges"/>
<rect x="612.8" y="367.21" width="15.80" height="9.94" fill="rgb(255,0,0)" shape-rendering="crispEdges"/>
<rect x="612.8" y="372.18" width="15.80" height="9.94" fill="rgb(255,13,0)" shape-rendering="crispEdges"/>
<rect x="612.8" y="377.14" width="15.80" height="9.94" fill="rgb(255,26,0)" shape-rendering="crispEdges"/>
<rect x="612.8" y="382.11" width="15.80" height="9.94" fill="rgb(255,38,0)" shape-rendering="crispEdges"/>
<rect x="612.8" y="387.08" width="15.80" height="9.94" fill="rgb(255,51,0)" shape-rendering="crispEdges"/>
<rect x="612.8" y="392.05" width="15.80" height="9.94" fill="rgb(255,64,0)" shape-rendering="crispEdges"/>
<rect x="612.8" y="397.01" width="15.80" height="9.94" fill="rgb(255,77,0)" shape-rendering="crispEdges"/>
<rect x="612.8" y="401.98" width="15.80" height="9.94" fill="rgb(255,89,0)" shape-rendering="crispEdges"/>
<rect x="612.8" y="406.95" width="15.80" height="9.94" fill="rgb(255,102,0)" shape-rendering="crispEdges"/>
<rect x="612.8" y="411.92" width="15.80" height="9.94" fill="rgb(255,115,0)" shape-rendering="crispEdges"/>
<rect x="612.8" y="416.88" width="15.80" height="9.94" fill="rgb(255,128,0)" shape-rendering="crispEdges"/>
<rect x="612.8" y="421.85" width="15.80" height="9.94" fill="rgb(255,140,0)" shape-rendering="crispEdges"/>
<rect x="612.8" y="426.82" width="15.80" height="9.94" fill="rgb(255,153,0)" shape-rendering="crispEdges"/>
<rect x="612.8" y="431.79" width="15.80" height="9.94" fill="rgb(255,166,0)" shape-rendering="crispEdges"/>
<rect x="612.8" y="436.75" width="15.80" height="9.94" fill="rgb(255,178,0)" shape-rendering="crispEdges"/>
<rect x="612.8" y="441.72" width="15.80" height="9.94" fill="rgb(255,191,0)" shape-rendering="crispEdges"/>
<rect x="612.8" y="446.69" width="15.80" height="9.94" fill="rgb(255,204,0)" shape-rendering="crispEdges"/>
<rect x="612.8" y="451.66" width="15.80" height="9.94" fill="rgb(255,217,0)" shape-rendering="crispEdges"/>
<rect x="612.8" y="456.62" width="15.80" height="9.94" fill="rgb(255,229,0)" shape-rendering="crispEdges"/>
<rect x="612.8" y="461.59" width="15.80" height="9.94" fill="rgb(255,242,0)" shape-rendering="crispEdges"/>
<rect x="612.8" y="466.56" width="15.80" height="9.94" fill="rgb(255,255,0)" shape-rendering="crispEdges"/>
<rect x="612.8" y="471.53" width="15.80" height="9.94" fill="rgb(255,255,26)" shape-rendering="crispEdges"/>
<rect x="612.8" y="476.49" width="15.80" height="9.94" fill="rgb(255,255,51)" shape-rendering="crispEdges"/>
<rect x="612.8" y="481.46" width="15.80" height="9.94" fill="rgb(255,255,76)" shape-rendering="crispEdges"/>
<rect x="612.8" y="486.43" width="15.80" height="9.94" fill="rgb(255,255,102)" shape-rendering="crispEdges"/>
<rect x="612.8" y="491.40" width="15.80" height="9.94" fill="rgb(255,255,128)" shape-rendering="crispEdges"/>
<rect x="612.8" y="496.36" width="15.80" height="9.94" fill="rgb(255,255,153)" shape-rendering="crispEdges"/>
<rect x="612.8" y="501.33" width="15.80" height="9.94" fill="rgb(255,255,179)" shape-rendering="crispEdges"/>
<rect x="612.8" y="506.30" width="15.80" height="9.94" fill="rgb(255,255,204)" shape-rendering="crispEdges"/>
<rect x="612.8" y="511.27" width="15.80" height="9.94" fill="rgb(255,255,229)" shape-rendering="crispEdges"/>
<rect x="612.8" y="516.23" width="15.80" height="4.97" fill="rgb(255,255,255)" shape-rendering="crispEdges"/>
<rect x="612.8" y="322.5" width="15.80" height="198.70" fill="none" stroke="#5a5a5a" stroke-width="1"/>
<line x1="628.6" y1="322.50" x2="632.16" y2="322.50" stroke="#3c3c3c" stroke-width="0.8"/>
<text transform="translate(637.1 326.49) scale(0.97 1)" font-size="11.81">4.880E-5</text>
<line x1="628.6" y1="347.34" x2="632.16" y2="347.34" stroke="#3c3c3c" stroke-width="0.8"/>
<text transform="translate(637.1 351.33) scale(0.97 1)" font-size="11.81">4.270E-5</text>
<line x1="628.6" y1="372.18" x2="632.16" y2="372.18" stroke="#3c3c3c" stroke-width="0.8"/>
<text transform="translate(637.1 376.17) scale(0.97 1)" font-size="11.81">3.660E-5</text>
<line x1="628.6" y1="397.01" x2="632.16" y2="397.01" stroke="#3c3c3c" stroke-width="0.8"/>
<text transform="translate(637.1 401.00) scale(0.97 1)" font-size="11.81">3.050E-5</text>
<line x1="628.6" y1="421.85" x2="632.16" y2="421.85" stroke="#3c3c3c" stroke-width="0.8"/>
<text transform="translate(637.1 425.84) scale(0.97 1)" font-size="11.81">2.440E-5</text>
<line x1="628.6" y1="446.69" x2="632.16" y2="446.69" stroke="#3c3c3c" stroke-width="0.8"/>
<text transform="translate(637.1 450.68) scale(0.97 1)" font-size="11.81">1.830E-5</text>
<line x1="628.6" y1="471.53" x2="632.16" y2="471.53" stroke="#3c3c3c" stroke-width="0.8"/>
<text transform="translate(637.1 475.52) scale(0.97 1)" font-size="11.81">1.220E-5</text>
<line x1="628.6" y1="496.36" x2="632.16" y2="496.36" stroke="#3c3c3c" stroke-width="0.8"/>
<text transform="translate(637.1 500.35) scale(0.97 1)" font-size="11.81">6.100E-6</text>
<line x1="628.6" y1="521.20" x2="632.16" y2="521.20" stroke="#3c3c3c" stroke-width="0.8"/>
<text transform="translate(637.1 525.19) scale(0.97 1)" font-size="11.81">0.000</text>
<text transform="translate(605.5 316.0) scale(0.975 1)" font-size="9.9">Density</text>
</g>
</svg></body></html>
